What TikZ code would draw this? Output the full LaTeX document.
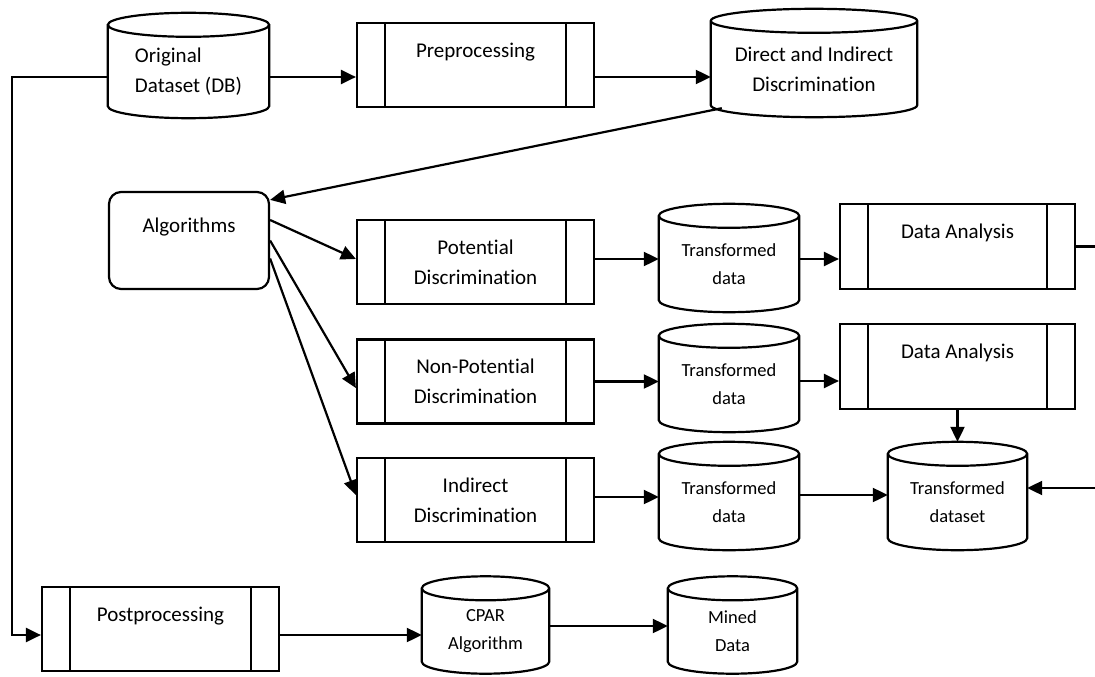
\documentclass[tikz,border=0pt]{standalone}
\usepackage{fontspec}
\setmainfont{Carlito}[Ligatures=NoCommon]
\usetikzlibrary{arrows.meta,calc}

\newcommand{\bigtext}{\fontsize{21}{30}\selectfont}
\newcommand{\smalltext}{\fontsize{18.5}{27.5}\selectfont}
\def\capr{12pt}
% cylinder outline round a named node
\newcommand{\drum}[1]{%
  \draw[line width=2.2pt] let \p1=(#1.north west), \p2=(#1.south east), \n1={(\x2-\x1)/2} in
    (\x1,\y1) -- (\x1,\y2+\capr) arc[start angle=180,end angle=360,x radius=\n1,y radius=\capr] -- (\x2,\y1)
    (\x1+\n1,\y1) ellipse[x radius=\n1,y radius=\capr];
}

\begin{document}
\begin{tikzpicture}[x=1pt,y=-1pt,
    proc/.style={draw,line width=2.2pt,minimum width=237pt,minimum height=84pt,align=center,font=\bigtext,
      path picture={\draw[line width=2.2pt]
        ([xshift=28pt]path picture bounding box.north west) -- ([xshift=28pt]path picture bounding box.south west)
        ([xshift=-28pt]path picture bounding box.north east) -- ([xshift=-28pt]path picture bounding box.south east);}},
    drum/.style={minimum width=140pt,minimum height=96pt,align=center,font=\smalltext},
    arr/.style={-{Triangle[length=15pt,width=14pt]},line width=2.2pt}]
    \useasboundingbox (0,0) rectangle (1095,677);

    % top row
    \node[drum,minimum width=161pt,minimum height=93pt,font=\bigtext,align=left] (orig) at (188.5,71.5) {Original\\Dataset (DB)};
    \node[proc] (pre) at (475.5,65) {Preprocessing\\~};
    \node[drum,minimum width=206pt,font=\bigtext] (direct) at (814,69) {Direct and Indirect\\Discrimination};

    \node[draw,line width=2.2pt,rounded corners=12pt,minimum width=160pt,minimum height=97pt,align=center,font=\bigtext] (alg) at (189,240.5) {Algorithms\\~};

    % three branches
    \foreach \nm/\y/\lbl in {pot/262/Potential,nonpot/381.5/Non-Potential,indir/500/Indirect}{
        \node[proc] (\nm) at (475.5,\y) {\lbl\\Discrimination};
    }
    \foreach \nm/\y in {td1/264,td2/384,td3/502}{
        \node[drum] (\nm) at (729,\y) {Transformed\\data};
    }
    \node[proc,minimum width=235pt,minimum height=85pt] (da1) at (957.5,246.5) {Data Analysis\\~};
    \node[proc,minimum width=235pt,minimum height=85pt] (da2) at (957.5,366.5) {Data Analysis\\~};
    \node[drum,minimum width=139pt] (tds) at (957.5,502) {Transformed\\dataset};

    % bottom row
    \node[proc] (post) at (160.5,629) {Postprocessing\\~};
    \node[drum,minimum width=127pt,minimum height=85pt] (cpar) at (485.5,631) {CPAR\\Algorithm};
    \node[drum,minimum width=129pt,minimum height=85pt] (mined) at (732.5,631) {Mined\\Data};

    \foreach \cy in {orig,direct,td1,td2,td3,tds,cpar,mined}{
        \drum{\cy}
    }

    \coordinate (out1) at (1095,246.5);
    \coordinate (in1) at (1095,488);

    % connectors
    \draw[arr] ([yshift=-5.5pt]orig.east) -- ([yshift=-5.5pt]orig.east -| pre.west);
    \draw[arr] ([yshift=-12pt]pre.east) -- ([yshift=-12pt]pre.east -| direct.west);
    \draw[arr] ([xshift=11pt,yshift=9pt]direct.south west) -- ([yshift=-9pt]alg.north east);
    \draw[arr] ([yshift=20.5pt]alg.east) -- ([yshift=3pt]pot.west);
    \draw[arr] (alg.east) -- ([yshift=-6.5pt]nonpot.west);
    \draw[arr] ([yshift=-18pt]alg.east) -- ([yshift=5pt]indir.west);
    \draw[arr] ([yshift=3pt]pot.east) -- ([yshift=3pt]pot.east -| td1.west);
    \draw[arr] (nonpot.east) -- (nonpot.east -| td2.west);
    \draw[arr] ([yshift=3pt]indir.east) -- ([yshift=3pt]indir.east -| td3.west);
    \draw[arr] ([yshift=5pt]td1.east) -- ([yshift=5pt]td1.east -| da1.west);
    \draw[arr] ([yshift=3pt]td2.east) -- ([yshift=3pt]td2.east -| da2.west);
    \draw[line width=2.2pt] (da1.east) -- (out1);
    \draw[arr] (da2.south) -- ([yshift=\capr]tds.north);
    \draw[arr] ([yshift=7pt]td3.east) -- ([yshift=7pt]td3.east -| tds.west);
    \draw[arr] (in1) -- (in1 -| tds.east);
    \draw[arr] ([yshift=-5.5pt]orig.west) -- ++(-96,0) |- ([yshift=-6pt]post.west);
    \draw[arr] ([yshift=-6pt]post.east) -- ([yshift=-6pt]post.east -| cpar.west);
    \draw[arr] ([yshift=5pt]cpar.east) -- ([yshift=5pt]cpar.east -| mined.west);
\end{tikzpicture}
\end{document}
